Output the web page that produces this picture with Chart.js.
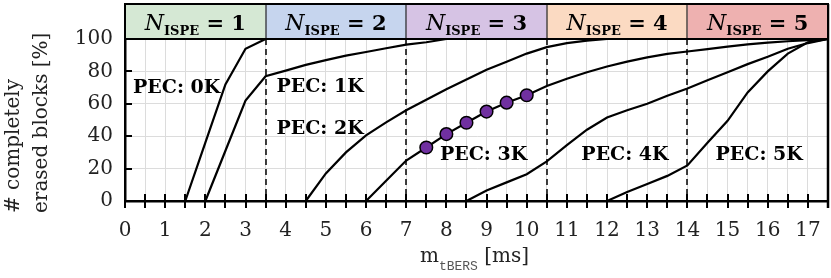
<!DOCTYPE html>
<html>
<head>
<meta charset="utf-8">
<title>Blocchi cancellati</title>
<script src="https://cdn.jsdelivr.net/npm/chart.js"></script>
<style>
  body { margin: 0; background: #fff; }
  #grafico { display: block; }
</style>
</head>
<body>
<canvas id="grafico" width="831" height="278"></canvas>
<script>
// curve: tempo di erase (ms) -> % blocchi completamente cancellati
var tempi0K = [1.5, 2, 2.5, 3, 3.5];
var blocchi0K = [0, 36, 72, 94, 100];
var tempi1K = [2, 2.5, 3, 3.5, 4, 4.5, 5, 5.5, 6, 6.5, 7, 7.5, 8];
var blocchi1K = [0, 31, 62, 77, 80.5, 84, 87, 89.7, 92, 94.3, 96.5, 98, 100];
var tempi2K = [4.5, 5, 5.5, 6, 6.5, 7, 7.5, 8, 8.5, 9, 9.5, 10, 10.5, 11, 11.5, 12];
var blocchi2K = [0, 17, 30, 40.5, 48.5, 56, 62.5, 69, 75, 81, 86, 91, 95, 97.5, 99, 100];
var tempi3K = [6, 6.5, 7, 7.5, 8, 8.5, 9, 9.5, 10, 10.5, 11, 11.5, 12, 12.5, 13, 13.5, 14, 14.5, 15, 15.5, 16, 16.5, 17, 17.5];
var blocchi3K = [0, 12.5, 25, 33, 41.3, 48.3, 55.2, 60.7, 65.3, 71, 75.5, 79.5, 83, 86, 88.7, 90.8, 92.3, 93.8, 95.3, 96.7, 97.8, 98.6, 99.3, 100];
var tempi4K = [8.5, 9, 9.5, 10, 10.5, 11, 11.5, 12, 12.5, 13, 13.5, 14, 14.5, 15, 15.5, 16, 16.5, 17, 17.5];
var blocchi4K = [0, 6.5, 11.5, 16.5, 24.5, 34.5, 44, 51.5, 56, 60, 65, 69.5, 74.5, 79.5, 84.5, 89, 94, 97.5, 100];
var tempi5K = [12, 12.5, 13, 13.5, 14, 14.5, 15, 15.5, 16, 16.5, 17, 17.5];
var blocchi5K = [0, 5.5, 10.5, 15.5, 22, 36, 49.5, 67, 80, 91, 98, 100];

// punti evidenziati sulla curva 3K
var marcatori3K = [7.5, 8, 8.5, 9, 9.5, 10];

// fasce N_ISPE in alto
var valoriISPE = [1, 2, 3, 4, 5];
var confiniISPE = [0, 3.5, 7, 10.5, 14, 17.5];
var coloriISPE = ['#d5e8d4', '#c6d5ee', '#d6c3e4', '#fbdac2', '#eeb1b0'];

// etichette delle curve (ancorate in coordinate dati)
var etichettePEC = ['PEC: 0K', 'PEC: 1K', 'PEC: 2K', 'PEC: 3K', 'PEC: 4K', 'PEC: 5K'];
var etichetteX = [0.2, 3.77, 3.77, 7.84, 11.36, 14.7];
var etichetteY = [69.6, 70.6, 44.4, 28.6, 28.6, 28.6];

var fontSerif = 'DejaVu Serif';

function punti(xs, ys) {
    var out = [];
    for (var i = 0; i < xs.length; i++) {
        out.push({x: xs[i], y: ys[i]});
    }
    return out;
}

function curva(xs, ys) {
    return {
        data: punti(xs, ys),
        borderColor: '#000',
        borderWidth: 2.2,
        pointRadius: 0,
        tension: 0,
        clip: 4
    };
}

var serie3K = curva(tempi3K, blocchi3K);
serie3K.pointRadius = function(c) {
    return marcatori3K.indexOf(c.raw.x) >= 0 ? 6.3 : 0;
};
serie3K.pointBackgroundColor = '#7030a0';
serie3K.pointBorderColor = '#000';
serie3K.pointBorderWidth = 1.5;

var decorazioni = {
    id: 'decorazioni',
    beforeDatasetsDraw: function(chart) {
        var ctx = chart.ctx;
        var a = chart.chartArea;
        var sx = chart.scales.x;
        var sy = chart.scales.y;
        ctx.save();
        // linee tratteggiate tra le fasce
        ctx.strokeStyle = '#000';
        ctx.lineWidth = 1.5;
        ctx.setLineDash([6, 4]);
        for (var i = 1; i < confiniISPE.length - 1; i++) {
            var px = Math.round(sx.getPixelForValue(confiniISPE[i]));
            ctx.beginPath();
            ctx.moveTo(px, a.top);
            ctx.lineTo(px, a.bottom);
            ctx.stroke();
        }
        ctx.setLineDash([]);
        ctx.lineWidth = 2;
        // tacche asse x (sopra e sotto)
        sx.ticks.forEach(function(t) {
            var px = Math.round(sx.getPixelForValue(t.value));
            ctx.beginPath();
            ctx.moveTo(px, a.bottom - 7);
            ctx.lineTo(px, a.bottom + 7);
            ctx.stroke();
        });
        // tacche asse y (verso l'interno)
        sy.ticks.forEach(function(t) {
            var py = Math.round(sy.getPixelForValue(t.value));
            ctx.beginPath();
            ctx.moveTo(a.left, py);
            ctx.lineTo(a.left + 7, py);
            ctx.stroke();
        });
        ctx.restore();
    },
    afterDraw: function(chart) {
        var ctx = chart.ctx;
        var a = chart.chartArea;
        var sx = chart.scales.x;
        var sy = chart.scales.y;
        var top = 4;
        ctx.save();

        // bordo destro
        ctx.strokeStyle = '#000';
        ctx.lineWidth = 2.5;
        ctx.beginPath();
        ctx.moveTo(a.right, top);
        ctx.lineTo(a.right, a.bottom + 7);
        ctx.stroke();

        // fasce N_ISPE
        for (var i = 0; i < valoriISPE.length; i++) {
            var x0 = sx.getPixelForValue(confiniISPE[i]);
            var x1 = sx.getPixelForValue(confiniISPE[i + 1]);
            ctx.fillStyle = coloriISPE[i];
            ctx.fillRect(x0, top, x1 - x0, a.top - top);
            if (i > 0) {
                ctx.strokeStyle = '#222';
                ctx.lineWidth = 1.2;
                ctx.beginPath();
                ctx.moveTo(Math.round(x0), top);
                ctx.lineTo(Math.round(x0), a.top);
                ctx.stroke();
            }
            // testo N_ISPE = n
            var fN = 'italic 22px ' + fontSerif;
            var fSub = 'bold 13px ' + fontSerif;
            var fEq = 'bold 21px ' + fontSerif;
            var resto = ' = ' + valoriISPE[i];
            ctx.font = fN; var wN = ctx.measureText('N').width;
            ctx.font = fSub; var wS = ctx.measureText('ISPE').width;
            ctx.font = fEq; var wE = ctx.measureText(resto).width;
            var sx0 = (x0 + x1) / 2 - (wN + wS + wE) / 2;
            ctx.fillStyle = '#000';
            ctx.textBaseline = 'alphabetic';
            ctx.textAlign = 'left';
            ctx.font = fN; ctx.fillText('N', sx0, 29.5);
            ctx.font = fSub; ctx.fillText('ISPE', sx0 + wN, 34.5);
            ctx.font = fEq; ctx.fillText(resto, sx0 + wN + wS, 29.5);
        }
        ctx.strokeStyle = '#000';
        ctx.lineWidth = 2;
        ctx.strokeRect(a.left, top, a.right - a.left, a.top - top);

        // etichette PEC
        ctx.font = 'bold 19px ' + fontSerif;
        ctx.fillStyle = '#000';
        ctx.textBaseline = 'middle';
        ctx.textAlign = 'left';
        for (var j = 0; j < etichettePEC.length; j++) {
            ctx.fillText(etichettePEC[j], sx.getPixelForValue(etichetteX[j]), sy.getPixelForValue(etichetteY[j]));
        }

        // titolo asse y (due righe ruotate)
        ctx.font = '20px ' + fontSerif;
        ctx.fillStyle = '#222';
        var righeY = ['# completely', 'erased blocks [%]'];
        var colonne = [14, 42];
        for (var k = 0; k < righeY.length; k++) {
            ctx.save();
            ctx.translate(colonne[k], 213);
            ctx.rotate(-Math.PI / 2);
            ctx.textAlign = 'left';
            ctx.textBaseline = 'middle';
            ctx.fillText(righeY[k], 0, 0);
            ctx.restore();
        }

        // titolo asse x: m_tBERS [ms]
        var fM = '20px ' + fontSerif;
        var fMono = '13px "Liberation Mono"';
        ctx.textBaseline = 'alphabetic';
        ctx.font = fM; var w1 = ctx.measureText('m').width; var w3 = ctx.measureText(' [ms]').width;
        ctx.font = fMono; var w2 = ctx.measureText('tBERS').width;
        var xt = (a.left + a.right) / 2 - 2 - (w1 + w2 + w3) / 2;
        ctx.fillStyle = '#222';
        ctx.font = fM; ctx.fillText('m', xt, 262);
        ctx.fillStyle = '#555';
        ctx.font = fMono; ctx.fillText('tBERS', xt + w1, 270);
        ctx.fillStyle = '#222';
        ctx.font = fM; ctx.fillText(' [ms]', xt + w1 + w2, 262);

        ctx.restore();
    }
};

var ctx = document.getElementById('grafico');
var chart = new Chart(ctx, {
    type: 'line',
    data: {
        datasets: [
            curva(tempi0K, blocchi0K),
            curva(tempi1K, blocchi1K),
            curva(tempi2K, blocchi2K),
            serie3K,
            curva(tempi4K, blocchi4K),
            curva(tempi5K, blocchi5K)
        ]
    },
    options: {
        responsive: false,
        animation: false,
        devicePixelRatio: 1,
        layout: { padding: { top: 39, right: 0, left: 0, bottom: 0 } },
        plugins: {
            legend: { display: false },
            tooltip: { enabled: false }
        },
        scales: {
            x: {
                type: 'linear',
                min: 0,
                max: 17.5,
                afterFit: function(s) { s.height = 77; },
                ticks: {
                    stepSize: 0.5,
                    autoSkip: false,
                    maxRotation: 0,
                    padding: 3,
                    color: '#222',
                    font: { family: fontSerif, size: 20, lineHeight: 2.7 },
                    callback: function(v) { return v % 1 === 0 ? v : ''; }
                },
                grid: { color: '#dcdcdc', lineWidth: 1, drawTicks: false },
                border: { color: '#000', width: 2.5 }
            },
            y: {
                min: 0,
                max: 100,
                afterFit: function(s) { s.width = 125; },
                ticks: {
                    stepSize: 10,
                    padding: 12,
                    color: '#222',
                    font: { family: fontSerif, size: 20 },
                    callback: function(v) { return v % 20 === 0 ? v : ''; }
                },
                grid: { color: '#dcdcdc', lineWidth: 1, drawTicks: false },
                border: { color: '#000', width: 2.5 }
            }
        }
    },
    plugins: [decorazioni]
});
</script>
</body>
</html>
